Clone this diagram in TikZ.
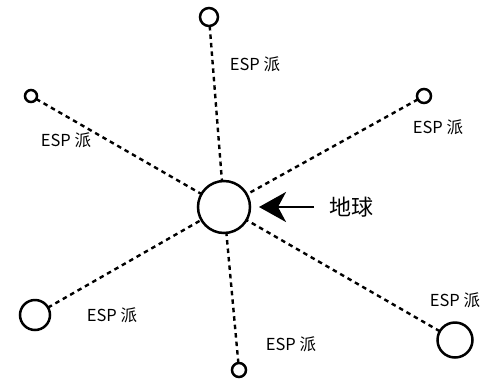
\documentclass[tikz,border=0pt]{standalone}
\usepackage{fontspec}
\setmainfont{Noto Sans CJK SC}
\usetikzlibrary{arrows.meta}
\begin{document}
\begin{tikzpicture}[x=1pt,y=-1pt,
  body/.style={circle,draw,line width=2.5pt,inner sep=0pt,outer sep=0pt},
  link/.style={line width=2.4pt,dash pattern=on 4.5pt off 4pt},
  lbl/.style={font=\fontsize{16.5}{16.5}\selectfont,inner sep=0pt}]
\useasboundingbox (0,0) rectangle (495,381);
\node[body,minimum size=52pt] (earth) at (224,207) {};
\node[body,minimum size=18pt] (s1) at (209,17) {};
\node[body,minimum size=12pt] (s2) at (31,96) {};
\node[body,minimum size=14pt] (s3) at (424,96) {};
\node[body,minimum size=30pt] (s4) at (35,315) {};
\node[body,minimum size=35pt] (s5) at (455,340) {};
\node[body,minimum size=14pt] (s6) at (239,370) {};
\foreach \s in {s1,s2,s3,s4,s5,s6} \draw[link] (\s) -- (earth);
\node[lbl] (l1) at (255,64) {ESP 派};
\node[lbl] (l2) at (66,140) {ESP 派};
\node[lbl] (l3) at (438,127) {ESP 派};
\node[lbl] (l4) at (112,315) {ESP 派};
\node[lbl] (l5) at (291,344) {ESP 派};
\node[lbl] (l6) at (455,300) {ESP 派};
\node[font=\fontsize{22}{22}\selectfont,inner sep=0pt,anchor=west] (t) at (329,207) {地球};
\coordinate (a0) at (314,207);
\coordinate (a1) at (259,207);
\draw[line width=2.5pt,-{Stealth[length=27pt,width=30pt,inset=8pt]}] (a0) -- (a1);
\end{tikzpicture}
\end{document}
